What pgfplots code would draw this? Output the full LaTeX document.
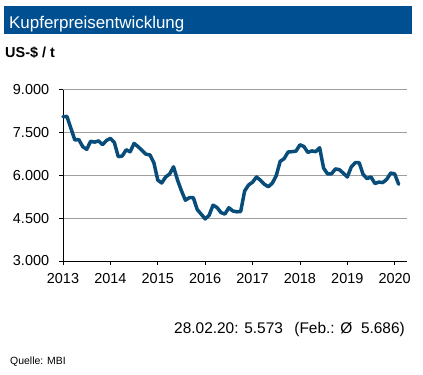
\documentclass[border=0pt]{standalone}
\usepackage{pgfplots}
\pgfplotsset{compat=1.18}
\usepackage{fontspec}
\setmainfont{Liberation Sans}
\definecolor{titleblue}{RGB}{0,80,145}
\definecolor{lineblue}{RGB}{8,76,122}
\begin{document}
\begin{tikzpicture}
\path[use as bounding box] (0,0) rectangle (423bp,-375bp);
\fill[titleblue] (4bp,-6bp) rectangle (412bp,-34bp);
\node[anchor=base west, text=white, font=\fontsize{17}{20}\selectfont, inner sep=0pt] at (9bp,-28bp) {Kupferpreisentwicklung};
\node[anchor=base west, font=\bfseries\fontsize{14.5}{17}\selectfont, inner sep=0pt] at (5bp,-57bp) {US-\$ / t};
\begin{axis}[
  at={(63bp,-261bp)}, anchor=south west, scale only axis,
  width=344bp, height=171.5bp,
  xmin=2013, xmax=2020.26, ymin=3000, ymax=9000,
  separate axis lines, axis x line*=bottom, axis y line*=left,
  axis line style={-, black, line width=0.8bp},
  xtick={2013,2014,2015,2016,2017,2018,2019,2020},
  xticklabels={2013,2014,2015,2016,2017,2018,2019,2020},
  ytick={3000,4500,6000,7500,9000},
  yticklabels={3.000,4.500,6.000,7.500,9.000},
  tick align=outside, major tick length=4bp,
  tick style={black, line width=0.8bp},
  ymajorgrids, major grid style={color=black!38, line width=0.8bp},
  ticklabel style={font=\fontsize{14.5}{17}\selectfont, inner sep=0pt},
  yticklabel style={anchor=east, xshift=-9.7bp},
  xticklabel style={anchor=north, yshift=-8.3bp},
  clip=false,
]
\addplot[lineblue, line width=3.5bp, line join=round, line cap=round]
  table[x expr={2013+\thisrow{i}/12}, y=p] {
i p
0 8047
1 8060
2 7645
3 7234
4 7250
5 7000
6 6907
7 7186
8 7159
9 7203
10 7071
11 7215
12 7291
13 7149
14 6650
15 6674
16 6891
17 6821
18 7113
19 7002
20 6872
21 6737
22 6713
23 6446
24 5831
25 5729
26 5940
27 6042
28 6295
29 5833
30 5457
31 5127
32 5217
33 5216
34 4800
35 4639
36 4472
37 4599
38 4954
39 4873
40 4695
41 4642
42 4864
43 4751
44 4722
45 4731
46 5450
47 5660
48 5755
49 5941
50 5825
51 5684
52 5600
53 5720
54 5985
55 6486
56 6580
57 6812
58 6826
59 6843
60 7066
61 7007
62 6799
63 6851
64 6825
65 6962
66 6250
67 6051
68 6050
69 6222
70 6194
71 6073
72 5939
73 6288
74 6439
75 6441
76 6029
77 5882
78 5942
79 5710
80 5760
81 5744
82 5860
83 6078
84 6047
85 5686
};
\end{axis}
\node[anchor=base west, font=\fontsize{15.5}{18}\selectfont, inner sep=0pt] at (174bp,-333.3bp) {28.02.20: 5.573};
\node[anchor=base east, font=\fontsize{15.5}{18}\selectfont, inner sep=0pt] at (405bp,-333.3bp) {(Feb.: Ø\ \ 5.686)};
\node[anchor=base west, font=\fontsize{10.5}{12}\selectfont, inner sep=0pt] at (10bp,-364bp) {Quelle: MBI};
\end{tikzpicture}
\end{document}
